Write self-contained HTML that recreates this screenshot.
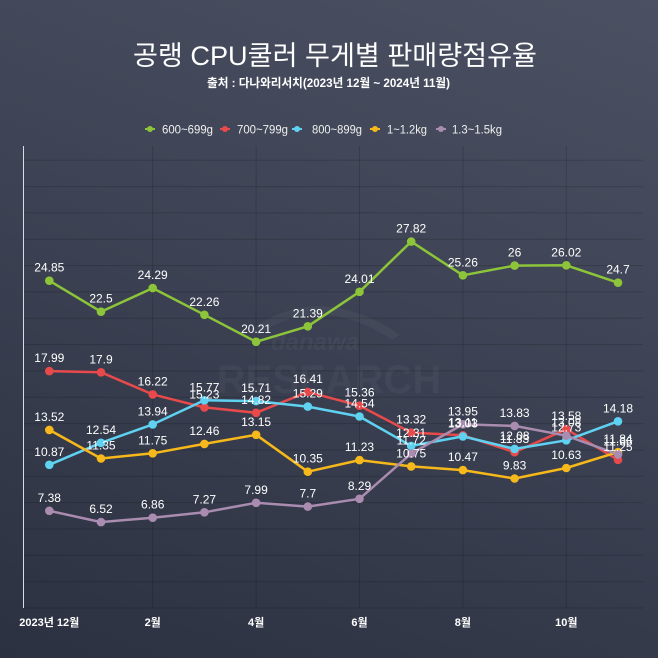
<!DOCTYPE html>
<html><head><meta charset="utf-8"><style>
html,body{margin:0;padding:0;width:658px;height:658px;overflow:hidden;}
body{background:linear-gradient(200deg,#4b5162 0%,#3d4354 45%,#2c3141 100%);}
svg{display:block;}
text{font-family:"Liberation Sans","Noto Sans CJK KR",sans-serif;}
</style></head><body>
<svg width="658" height="658" viewBox="0 0 658 658" xmlns="http://www.w3.org/2000/svg">
<!-- watermark -->
<g fill="rgba(255,255,255,0.04)" stroke="none">
<path d="M250 330 Q320 280 400 335 L392 340 Q320 292 258 335 Z"/>
<text x="315" y="350" font-size="24" font-weight="bold" font-style="italic" text-anchor="middle">danawa</text>
<text x="329" y="393" font-size="40" font-weight="bold" text-anchor="middle">RESEARCH</text>
</g>
<!-- grid -->
<g stroke="rgba(0,0,0,0.16)" stroke-width="1">
<line x1="23" x2="643" y1="581.7" y2="581.7"/>
<line x1="23" x2="643" y1="555.3" y2="555.3"/>
<line x1="23" x2="643" y1="529" y2="529"/>
<line x1="23" x2="643" y1="502.6" y2="502.6"/>
<line x1="23" x2="643" y1="476.3" y2="476.3"/>
<line x1="23" x2="643" y1="450" y2="450"/>
<line x1="23" x2="643" y1="423.6" y2="423.6"/>
<line x1="23" x2="643" y1="397.3" y2="397.3"/>
<line x1="23" x2="643" y1="370.9" y2="370.9"/>
<line x1="23" x2="643" y1="344.6" y2="344.6"/>
<line x1="23" x2="643" y1="318.3" y2="318.3"/>
<line x1="23" x2="643" y1="291.9" y2="291.9"/>
<line x1="23" x2="643" y1="265.6" y2="265.6"/>
<line x1="23" x2="643" y1="239.2" y2="239.2"/>
<line x1="23" x2="643" y1="212.9" y2="212.9"/>
<line x1="23" x2="643" y1="186.6" y2="186.6"/>
<line x1="23" x2="643" y1="160.2" y2="160.2"/>
<line x1="23" x2="643" y1="608" y2="608"/>
<line x1="152.7" x2="152.7" y1="146" y2="608"/>
<line x1="256.1" x2="256.1" y1="146" y2="608"/>
<line x1="359.5" x2="359.5" y1="146" y2="608"/>
<line x1="462.9" x2="462.9" y1="146" y2="608"/>
<line x1="566.3" x2="566.3" y1="146" y2="608"/>
</g>
<line x1="23.5" x2="23.5" y1="146" y2="608" stroke="#d8dbe2" stroke-width="1"/>

<!-- title -->
<text x="335" y="65" font-size="27" fill="#ffffff" text-anchor="middle" textLength="404" lengthAdjust="spacingAndGlyphs" font-family="Noto Sans CJK KR, sans-serif">공랭 CPU쿨러 무게별 판매량점유율</text>
<text x="328.5" y="87" font-size="12" font-weight="bold" fill="#ffffff" text-anchor="middle" textLength="243" lengthAdjust="spacingAndGlyphs" font-family="Noto Sans CJK KR, sans-serif">출처 : 다나와리서치(2023년 12월 ~ 2024년 11월)</text>

<!-- legend -->
<g font-size="11.5" fill="#f0f0f0">
<line x1="145" x2="155" y1="129" y2="129" stroke="#8cc43a" stroke-width="2"/><circle cx="150" cy="129" r="3" fill="#8cc43a"/>
<text x="162" y="133.5" textLength="51" lengthAdjust="spacingAndGlyphs">600~699g</text>
<line x1="220" x2="230" y1="129" y2="129" stroke="#e84a4c" stroke-width="2"/><circle cx="225" cy="129" r="3" fill="#e84a4c"/>
<text x="237" y="133.5" textLength="51" lengthAdjust="spacingAndGlyphs">700~799g</text>
<line x1="292" x2="302" y1="129" y2="129" stroke="#5fd2f2" stroke-width="2"/><circle cx="297" cy="129" r="3" fill="#5fd2f2"/>
<text x="312" y="133.5" textLength="50" lengthAdjust="spacingAndGlyphs">800~899g</text>
<line x1="370" x2="380" y1="129" y2="129" stroke="#f6b81a" stroke-width="2"/><circle cx="375" cy="129" r="3" fill="#f6b81a"/>
<text x="387" y="133.5" textLength="40" lengthAdjust="spacingAndGlyphs">1~1.2kg</text>
<line x1="436" x2="446" y1="129" y2="129" stroke="#a98cb0" stroke-width="2"/><circle cx="441" cy="129" r="3" fill="#a98cb0"/>
<text x="452" y="133.5" textLength="50" lengthAdjust="spacingAndGlyphs">1.3~1.5kg</text>
</g>

<!-- series lines -->
<g fill="none" stroke-width="2.5" stroke-linejoin="round">
<polyline stroke="#8cc43a" points="49.3,280.7 101,311.7 152.7,288.1 204.4,314.8 256.1,341.8 307.8,326.3 359.5,291.8 411.2,241.6 462.9,275.3 514.6,265.6 566.3,265.3 618,282.7"/>
<polyline stroke="#e84a4c" points="49.3,371.1 101,372.3 152.7,394.4 204.4,407.4 256.1,412.8 307.8,391.9 359.5,405.7 411.2,432.6 462.9,435.3 514.6,452.2 566.3,429.2 618,459.8"/>
<polyline stroke="#5fd2f2" points="49.3,464.8 101,442.8 152.7,424.4 204.4,400.3 256.1,401.1 307.8,406.6 359.5,416.5 411.2,445.9 462.9,436.4 514.6,448.9 566.3,440.3 618,421.3"/>
<polyline stroke="#f6b81a" points="49.3,429.9 101,458.5 152.7,453.3 204.4,443.9 256.1,434.8 307.8,471.7 359.5,460.1 411.2,466.4 462.9,470.1 514.6,478.5 566.3,468 618,452.1"/>
<polyline stroke="#a98cb0" points="49.3,510.8 101,522.1 152.7,517.7 204.4,512.3 256.1,502.8 307.8,506.6 359.5,498.8 411.2,453.6 462.9,424.3 514.6,425.9 566.3,435.7 618,454.4"/>
</g>
<!-- markers -->
<g fill="#8cc43a">
<circle cx="49.3" cy="280.7" r="4.3"/><circle cx="101" cy="311.7" r="4.3"/><circle cx="152.7" cy="288.1" r="4.3"/><circle cx="204.4" cy="314.8" r="4.3"/><circle cx="256.1" cy="341.8" r="4.3"/><circle cx="307.8" cy="326.3" r="4.3"/><circle cx="359.5" cy="291.8" r="4.3"/><circle cx="411.2" cy="241.6" r="4.3"/><circle cx="462.9" cy="275.3" r="4.3"/><circle cx="514.6" cy="265.6" r="4.3"/><circle cx="566.3" cy="265.3" r="4.3"/><circle cx="618" cy="282.7" r="4.3"/>
</g>
<g fill="#e84a4c">
<circle cx="49.3" cy="371.1" r="4.3"/><circle cx="101" cy="372.3" r="4.3"/><circle cx="152.7" cy="394.4" r="4.3"/><circle cx="204.4" cy="407.4" r="4.3"/><circle cx="256.1" cy="412.8" r="4.3"/><circle cx="307.8" cy="391.9" r="4.3"/><circle cx="359.5" cy="405.7" r="4.3"/><circle cx="411.2" cy="432.6" r="4.3"/><circle cx="462.9" cy="435.3" r="4.3"/><circle cx="514.6" cy="452.2" r="4.3"/><circle cx="566.3" cy="429.2" r="4.3"/><circle cx="618" cy="459.8" r="4.3"/>
</g>
<g fill="#5fd2f2">
<circle cx="49.3" cy="464.8" r="4.3"/><circle cx="101" cy="442.8" r="4.3"/><circle cx="152.7" cy="424.4" r="4.3"/><circle cx="204.4" cy="400.3" r="4.3"/><circle cx="256.1" cy="401.1" r="4.3"/><circle cx="307.8" cy="406.6" r="4.3"/><circle cx="359.5" cy="416.5" r="4.3"/><circle cx="411.2" cy="445.9" r="4.3"/><circle cx="462.9" cy="436.4" r="4.3"/><circle cx="514.6" cy="448.9" r="4.3"/><circle cx="566.3" cy="440.3" r="4.3"/><circle cx="618" cy="421.3" r="4.3"/>
</g>
<g fill="#f6b81a">
<circle cx="49.3" cy="429.9" r="4.3"/><circle cx="101" cy="458.5" r="4.3"/><circle cx="152.7" cy="453.3" r="4.3"/><circle cx="204.4" cy="443.9" r="4.3"/><circle cx="256.1" cy="434.8" r="4.3"/><circle cx="307.8" cy="471.7" r="4.3"/><circle cx="359.5" cy="460.1" r="4.3"/><circle cx="411.2" cy="466.4" r="4.3"/><circle cx="462.9" cy="470.1" r="4.3"/><circle cx="514.6" cy="478.5" r="4.3"/><circle cx="566.3" cy="468" r="4.3"/><circle cx="618" cy="452.1" r="4.3"/>
</g>
<g fill="#a98cb0">
<circle cx="49.3" cy="510.8" r="4.3"/><circle cx="101" cy="522.1" r="4.3"/><circle cx="152.7" cy="517.7" r="4.3"/><circle cx="204.4" cy="512.3" r="4.3"/><circle cx="256.1" cy="502.8" r="4.3"/><circle cx="307.8" cy="506.6" r="4.3"/><circle cx="359.5" cy="498.8" r="4.3"/><circle cx="411.2" cy="453.6" r="4.3"/><circle cx="462.9" cy="424.3" r="4.3"/><circle cx="514.6" cy="425.9" r="4.3"/><circle cx="566.3" cy="435.7" r="4.3"/><circle cx="618" cy="454.4" r="4.3"/>
</g>

<!-- data labels -->
<g font-size="12" fill="#ffffff" text-anchor="middle">
<text x="49.3" y="271.7">24.85</text><text x="101" y="302.7">22.5</text><text x="152.7" y="279.1">24.29</text><text x="204.4" y="305.8">22.26</text><text x="256.1" y="332.8">20.21</text><text x="307.8" y="317.3">21.39</text><text x="359.5" y="282.8">24.01</text><text x="411.2" y="232.6">27.82</text><text x="462.9" y="266.3">25.26</text><text x="514.6" y="256.6">26</text><text x="566.3" y="256.3">26.02</text><text x="618" y="273.7">24.7</text>

<text x="49.3" y="362.1">17.99</text><text x="101" y="363.3">17.9</text><text x="152.7" y="385.4">16.22</text><text x="204.4" y="398.4">15.23</text><text x="256.1" y="403.8">14.82</text><text x="307.8" y="382.9">16.41</text><text x="359.5" y="396.7">15.36</text><text x="411.2" y="423.6">13.32</text><text x="462.9" y="426.3">13.11</text><text x="514.6" y="443.2">11.83</text><text x="566.3" y="420.2">13.58</text><text x="618" y="450.8">11.25</text>

<text x="49.3" y="455.8">10.87</text><text x="101" y="433.8">12.54</text><text x="152.7" y="415.4">13.94</text><text x="204.4" y="391.3">15.77</text><text x="256.1" y="392.1">15.71</text><text x="307.8" y="397.6">15.29</text><text x="359.5" y="407.5">14.54</text><text x="411.2" y="436.9">12.31</text><text x="462.9" y="427.4">13.03</text><text x="514.6" y="439.9">12.08</text><text x="566.3" y="431.3">12.73</text><text x="618" y="412.3">14.18</text>

<text x="49.3" y="420.9">13.52</text><text x="101" y="449.5">11.35</text><text x="152.7" y="444.3">11.75</text><text x="204.4" y="434.9">12.46</text><text x="256.1" y="425.8">13.15</text><text x="307.8" y="462.7">10.35</text><text x="359.5" y="451.1">11.23</text><text x="411.2" y="457.4">10.75</text><text x="462.9" y="461.1">10.47</text><text x="514.6" y="469.5">9.83</text><text x="566.3" y="459">10.63</text><text x="618" y="443.1">11.84</text>

<text x="49.3" y="501.8">7.38</text><text x="101" y="513.1">6.52</text><text x="152.7" y="508.7">6.86</text><text x="204.4" y="503.3">7.27</text><text x="256.1" y="493.8">7.99</text><text x="307.8" y="497.6">7.7</text><text x="359.5" y="489.8">8.29</text><text x="411.2" y="444.6">11.72</text><text x="462.9" y="415.3">13.95</text><text x="514.6" y="416.9">13.83</text><text x="566.3" y="426.7">13.08</text><text x="618" y="445.4">11.66</text>
</g>

<!-- x axis labels -->
<g font-size="11" fill="#ffffff" text-anchor="middle" font-weight="bold">
<text x="49.3" y="626">2023년 12월</text>
<text x="152.7" y="626">2월</text>
<text x="256.1" y="626">4월</text>
<text x="359.5" y="626">6월</text>
<text x="462.9" y="626">8월</text>
<text x="566.3" y="626">10월</text>
</g>
</svg>
</body></html>
